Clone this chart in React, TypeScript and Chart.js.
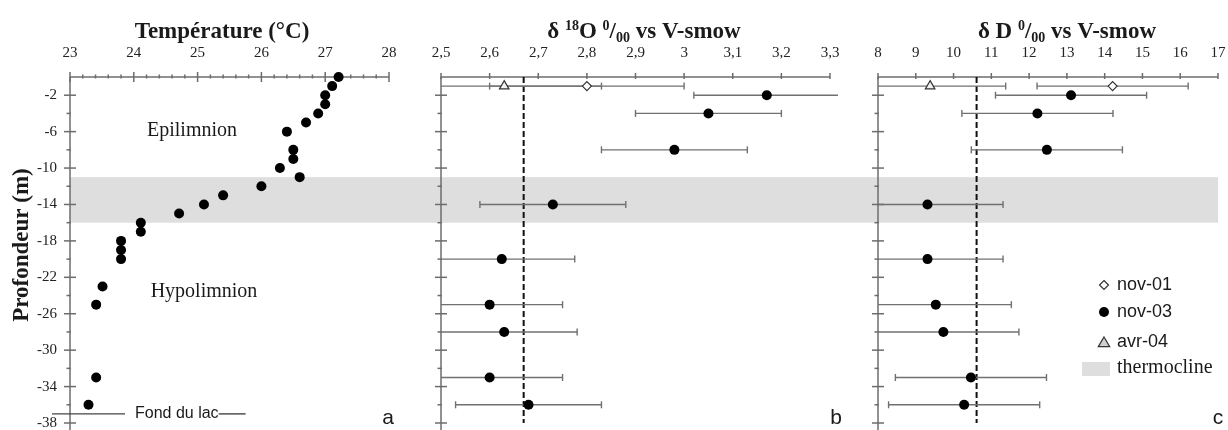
import React, { useEffect, useRef } from "react";
import { Chart, registerables } from "chart.js";
Chart.register(...registerables);

// ---------------- DATA ----------------
const tempDepth = [0, -1, -2, -3, -4, -5, -6, -8, -9, -10, -11, -12, -13, -14, -15, -16, -17, -18, -19, -20, -23, -25, -33, -36];
const temperature = [27.21, 27.11, 27.0, 27.0, 26.89, 26.7, 26.4, 26.5, 26.5, 26.29, 26.6, 26.0, 25.4, 25.1, 24.71, 24.11, 24.11, 23.8, 23.8, 23.8, 23.51, 23.41, 23.41, 23.29];

const isoDepth = [-2, -4, -8, -14, -20, -25, -28, -33, -36];
const d18O_nov03 = [3.17, 3.05, 2.98, 2.73, 2.625, 2.6, 2.63, 2.6, 2.68];
const d18O_nov03_err = [0.15, 0.15, 0.15, 0.15, 0.15, 0.15, 0.15, 0.15, 0.15];
const dD_nov03 = [13.11, 12.22, 12.47, 9.31, 9.31, 9.53, 9.73, 10.46, 10.28];
const dD_nov03_err = [2, 2, 2, 2, 2, 2, 2, 2, 2];

const surfaceDepth = [-1];
const d18O_nov01 = [2.8];
const d18O_nov01_err = [0.2];
const d18O_avr04 = [2.63];
const d18O_avr04_err = [0.2];
const dD_nov01 = [14.21];
const dD_nov01_err = [2];
const dD_avr04 = [9.38];
const dD_avr04_err = [2];

const d18O_ref = 2.67;
const dD_ref = 10.61;
const thermocline = [-11, -16];
const lakeBottom = -37;

const tempTicks = [23, 24, 25, 26, 27, 28];
const d18OTicks = [2.5, 2.6, 2.7, 2.8, 2.9, 3.0, 3.1, 3.2, 3.3];
const dDTicks = [8, 9, 10, 11, 12, 13, 14, 15, 16, 17];
const depthTicks = [-2, -6, -10, -14, -18, -22, -26, -30, -34, -38];
const depthMinorTicks = [-4, -8, -12, -16, -20, -24, -28, -32, -36];

const seriesLabels = ["nov-03", "nov-01", "avr-04"];
const bandLabel = "thermocline";

// ---------------- LAYOUT / STYLE ----------------
const W = 1228;
const H = 430;
const TOP = 77;
const BOTTOM = 423;
const AX = 60;
const PANEL_A = { left: 70, right: 389 };
const PANEL_B = { left: 441, right: 830 };
const PANEL_C = { left: 878, right: 1218 };
const SERIF = "'Liberation Serif', 'Times New Roman', serif";
const SANS = "'Liberation Sans', Arial, sans-serif";
const AXIS = "#6c6c6c";
const BAND = "#dedede";
const TEXT = "#1a1a1a";

function seg(ctx, x1, y1, x2, y2) {
  ctx.beginPath();
  ctx.moveTo(x1, y1);
  ctx.lineTo(x2, y2);
  ctx.stroke();
}

function drawRich(ctx, segs, cx, baseline) {
  let total = 0;
  segs.forEach((s) => {
    ctx.font = `bold ${s.size}px ${SERIF}`;
    total += ctx.measureText(s.t).width;
  });
  let x = cx - total / 2;
  ctx.textAlign = "left";
  ctx.textBaseline = "alphabetic";
  ctx.fillStyle = TEXT;
  segs.forEach((s) => {
    ctx.font = `bold ${s.size}px ${SERIF}`;
    ctx.fillText(s.t, x, baseline + (s.dy || 0));
    x += ctx.measureText(s.t).width;
  });
}

function drawDiamond(ctx, x, y, r) {
  ctx.beginPath();
  ctx.moveTo(x, y - r);
  ctx.lineTo(x + r, y);
  ctx.lineTo(x, y + r);
  ctx.lineTo(x - r, y);
  ctx.closePath();
  ctx.fillStyle = "#fff";
  ctx.fill();
  ctx.strokeStyle = "#333";
  ctx.lineWidth = 1.2;
  ctx.stroke();
}
function drawTriangle(ctx, x, y, r) {
  ctx.beginPath();
  ctx.moveTo(x, y - r);
  ctx.lineTo(x + r * 0.95, y + r * 0.6);
  ctx.lineTo(x - r * 0.95, y + r * 0.6);
  ctx.closePath();
  ctx.fillStyle = "#cfcfcf";
  ctx.fill();
  ctx.strokeStyle = "#333";
  ctx.lineWidth = 1.2;
  ctx.stroke();
}

function minorsOf(majors, n) {
  const out = [];
  for (let i = 0; i < majors.length - 1; i++) {
    const step = (majors[i + 1] - majors[i]) / n;
    for (let k = 1; k < n; k++) out.push(majors[i] + step * k);
  }
  return out;
}

function panelPlugin(spec) {
  return {
    id: "panel_" + spec.key,
    beforeDraw(chart) {
      if (!spec.drawBand) return;
      const ctx = chart.ctx;
      const ys = chart.scales.y;
      const y1 = ys.getPixelForValue(thermocline[0]);
      const y2 = ys.getPixelForValue(thermocline[1]);
      ctx.save();
      ctx.fillStyle = BAND;
      ctx.fillRect(PANEL_A.left, y1, PANEL_C.right - PANEL_A.left, y2 - y1);
      ctx.restore();
    },
    beforeDatasetsDraw(chart) {
      const ctx = chart.ctx;
      const { left, right, top, bottom } = chart.chartArea;
      const xs = chart.scales.x;
      const ys = chart.scales.y;
      ctx.save();
      ctx.strokeStyle = AXIS;
      ctx.lineWidth = 1.5;
      seg(ctx, left, top, right, top);
      seg(ctx, left, top, left, bottom + 7);
      spec.xTicks.forEach((v) => {
        const p = xs.getPixelForValue(v);
        seg(ctx, p, top - spec.xMaj[0], p, top + spec.xMaj[1]);
      });
      (spec.xMinor || []).forEach((v) => {
        const p = xs.getPixelForValue(v);
        seg(ctx, p, top - 2.5, p, top + 1.5);
      });
      depthTicks.forEach((v) => {
        const p = ys.getPixelForValue(v);
        seg(ctx, left - 6, p, left + 6, p);
      });
      depthMinorTicks.forEach((v) => {
        const p = ys.getPixelForValue(v);
        seg(ctx, left - 3.5, p, left + 1, p);
      });
      if (spec.refValue != null) {
        const p = xs.getPixelForValue(spec.refValue);
        ctx.strokeStyle = "#111";
        ctx.lineWidth = 2;
        ctx.setLineDash([6, 3]);
        seg(ctx, p, top, p, bottom);
        ctx.setLineDash([]);
      }
      ctx.beginPath();
      ctx.rect(left, 0, right + 8 - left, H);
      ctx.clip();
      ctx.strokeStyle = "#707070";
      ctx.lineWidth = 1.4;
      (spec.errors || []).forEach(({ ds, err }) => {
        const data = chart.data.datasets[ds].data;
        data.forEach((pt, i) => {
          const y = ys.getPixelForValue(pt.y);
          const x1 = xs.getPixelForValue(pt.x - err[i]);
          const x2 = xs.getPixelForValue(pt.x + err[i]);
          seg(ctx, x1, y, x2, y);
          seg(ctx, x1, y - 3.5, x1, y + 3.5);
          seg(ctx, x2, y - 3.5, x2, y + 3.5);
        });
      });
      ctx.restore();
    },
    afterDraw(chart) {
      const ctx = chart.ctx;
      ctx.save();
      spec.decorate(chart, ctx);
      ctx.restore();
    },
  };
}

function makeChart(canvas, spec) {
  const area = spec.area;
  const tickFont = { family: SERIF, size: 15 };
  return new Chart(canvas, {
    type: "scatter",
    data: { datasets: spec.datasets },
    options: {
      responsive: false,
      animation: false,
      events: [],
      layout: {
        padding: { left: area.left - AX, right: W - area.right, top: TOP - AX, bottom: H - BOTTOM },
      },
      plugins: { legend: { display: false }, tooltip: { enabled: false }, title: { display: false } },
      scales: {
        x: {
          type: "linear",
          position: "top",
          min: spec.xMin,
          max: spec.xMax,
          afterBuildTicks: (s) => {
            s.ticks = spec.xTicks.map((v) => ({ value: v }));
          },
          afterFit: (s) => {
            s.height = AX;
            s.paddingLeft = 0;
            s.paddingRight = 0;
            s.paddingTop = 0;
            s.paddingBottom = 0;
          },
          grid: { display: false, drawTicks: false },
          border: { display: false },
          ticks: {
            autoSkip: false,
            maxRotation: 0,
            padding: 15,
            font: tickFont,
            color: "#222",
            callback: (v) => spec.fmt(v),
          },
        },
        y: {
          type: "linear",
          min: -38,
          max: 0,
          afterBuildTicks: (s) => {
            s.ticks = depthTicks.map((v) => ({ value: v }));
          },
          afterFit: (s) => {
            s.width = AX;
            s.paddingLeft = 0;
            s.paddingRight = 0;
            s.paddingTop = 0;
            s.paddingBottom = 0;
          },
          grid: { display: false, drawTicks: false },
          border: { display: false },
          ticks: {
            display: spec.yLabels,
            autoSkip: false,
            padding: 13,
            font: tickFont,
            color: "#222",
          },
        },
      },
    },
    plugins: [panelPlugin(spec)],
  });
}

const pts = (xs, ys) => xs.map((x, i) => ({ x, y: ys[i] }));
const circleDs = (label, data) => ({
  label, data, clip: false, pointStyle: "circle", pointRadius: 5,
  backgroundColor: "#000", borderColor: "#000", borderWidth: 0, showLine: false,
});
const diamondDs = (label, data) => ({
  label, data, clip: false, pointStyle: "rectRot", pointRadius: 4.5,
  backgroundColor: "#fff", borderColor: "#333", borderWidth: 1.2, showLine: false,
});
const triangleDs = (label, data) => ({
  label, data, clip: false, pointStyle: "triangle", pointRadius: 5.5,
  backgroundColor: "#f2f2f2", borderColor: "#333", borderWidth: 1.2, showLine: false,
});

function panelLetter(ctx, letter, x) {
  ctx.font = `21px ${SANS}`;
  ctx.fillStyle = TEXT;
  ctx.textAlign = "center";
  ctx.textBaseline = "middle";
  ctx.fillText(letter, x, 418);
}

const specA = {
  key: "a",
  area: PANEL_A,
  xMin: 23,
  xMax: 28,
  xTicks: tempTicks,
  xMinor: minorsOf(tempTicks, 5),
  xMaj: [5, 5],
  fmt: (v) => String(v),
  yLabels: true,
  drawBand: true,
  refValue: null,
  errors: [],
  datasets: [circleDs("temperature", pts(temperature, tempDepth))],
  decorate: (chart, ctx) => {
    drawRich(ctx, [{ t: "Température (°C)", size: 23 }], 222, 38);
    // y axis title
    ctx.save();
    ctx.translate(22, 245);
    ctx.rotate(-Math.PI / 2);
    ctx.font = `bold 23px ${SERIF}`;
    ctx.fillStyle = TEXT;
    ctx.textAlign = "center";
    ctx.textBaseline = "middle";
    ctx.fillText("Profondeur (m)", 0, 0);
    ctx.restore();
    ctx.font = `20px ${SERIF}`;
    ctx.fillStyle = TEXT;
    ctx.textAlign = "center";
    ctx.textBaseline = "middle";
    ctx.fillText("Epilimnion", 192, 131);
    ctx.fillText("Hypolimnion", 204, 292);
    // lake bottom
    const yb = chart.scales.y.getPixelForValue(lakeBottom);
    ctx.font = `16px ${SANS}`;
    ctx.textAlign = "left";
    const tx = 135;
    const tw = ctx.measureText("Fond du lac").width;
    ctx.fillText("Fond du lac", tx, yb);
    ctx.strokeStyle = "#444";
    ctx.lineWidth = 1.4;
    seg(ctx, PANEL_A.left - 18, yb, tx - 10, yb);
    seg(ctx, tx + tw, yb, tx + tw + 27, yb);
    panelLetter(ctx, "a", 388);
  },
};

const specB = {
  key: "b",
  area: PANEL_B,
  xMin: 2.5,
  xMax: 3.3,
  xTicks: d18OTicks,
  xMinor: [],
  xMaj: [4, 2],
  fmt: (v) => String(v).replace(".", ","),
  yLabels: false,
  drawBand: false,
  refValue: d18O_ref,
  errors: [
    { ds: 2, err: d18O_avr04_err },
    { ds: 1, err: d18O_nov01_err },
    { ds: 0, err: d18O_nov03_err },
  ],
  datasets: [
    circleDs(seriesLabels[0], pts(d18O_nov03, isoDepth)),
    diamondDs(seriesLabels[1], pts(d18O_nov01, surfaceDepth)),
    triangleDs(seriesLabels[2], pts(d18O_avr04, surfaceDepth)),
  ],
  decorate: (chart, ctx) => {
    drawRich(
      ctx,
      [
        { t: "δ ", size: 23 },
        { t: "18", size: 14, dy: -8 },
        { t: "O ", size: 23 },
        { t: "0", size: 14, dy: -8 },
        { t: "/", size: 23 },
        { t: "00", size: 14, dy: 4 },
        { t: " vs V-smow", size: 23 },
      ],
      644,
      38
    );
    panelLetter(ctx, "b", 836);
  },
};

const specC = {
  key: "c",
  area: PANEL_C,
  xMin: 8,
  xMax: 17,
  xTicks: dDTicks,
  xMinor: [],
  xMaj: [4, 2],
  fmt: (v) => String(v),
  yLabels: false,
  drawBand: false,
  refValue: dD_ref,
  errors: [
    { ds: 2, err: dD_avr04_err },
    { ds: 1, err: dD_nov01_err },
    { ds: 0, err: dD_nov03_err },
  ],
  datasets: [
    circleDs(seriesLabels[0], pts(dD_nov03, isoDepth)),
    diamondDs(seriesLabels[1], pts(dD_nov01, surfaceDepth)),
    triangleDs(seriesLabels[2], pts(dD_avr04, surfaceDepth)),
  ],
  decorate: (chart, ctx) => {
    drawRich(
      ctx,
      [
        { t: "δ D ", size: 23 },
        { t: "0", size: 14, dy: -8 },
        { t: "/", size: 23 },
        { t: "00", size: 14, dy: 4 },
        { t: " vs V-smow", size: 23 },
      ],
      1067,
      38
    );
    // legend
    const ds = chart.data.datasets;
    const mx = 1104;
    const tx = 1117;
    ctx.textAlign = "left";
    ctx.textBaseline = "middle";
    ctx.fillStyle = TEXT;
    ctx.font = `18px ${SANS}`;
    drawDiamond(ctx, mx, 285, 4.5);
    ctx.fillStyle = TEXT;
    ctx.fillText(ds[1].label, tx, 285);
    ctx.beginPath();
    ctx.arc(mx, 312, 5, 0, Math.PI * 2);
    ctx.fillStyle = "#000";
    ctx.fill();
    ctx.fillStyle = TEXT;
    ctx.fillText(ds[0].label, tx, 312);
    drawTriangle(ctx, mx, 343, 6);
    ctx.fillStyle = TEXT;
    ctx.fillText(ds[2].label, tx, 342);
    ctx.fillStyle = BAND;
    ctx.fillRect(1082, 362, 28, 14);
    ctx.fillStyle = TEXT;
    ctx.font = `20px ${SERIF}`;
    ctx.fillText(bandLabel, tx, 368);
    panelLetter(ctx, "c", 1218);
  },
};

export default function App() {
  const refA = useRef(null);
  const refB = useRef(null);
  const refC = useRef(null);
  useEffect(() => {
    const charts = [
      makeChart(refA.current, specA),
      makeChart(refB.current, specB),
      makeChart(refC.current, specC),
    ];
    return () => charts.forEach((c) => c.destroy());
  }, []);
  const cs = { position: "absolute", left: 0, top: 0, width: W, height: H };
  return (
    <div style={{ position: "absolute", left: 0, top: 0, width: W, height: H, background: "#fff", overflow: "hidden" }}>
      <canvas ref={refA} width={W} height={H} style={cs as any} />
      <canvas ref={refB} width={W} height={H} style={cs as any} />
      <canvas ref={refC} width={W} height={H} style={cs as any} />
    </div>
  );
}
